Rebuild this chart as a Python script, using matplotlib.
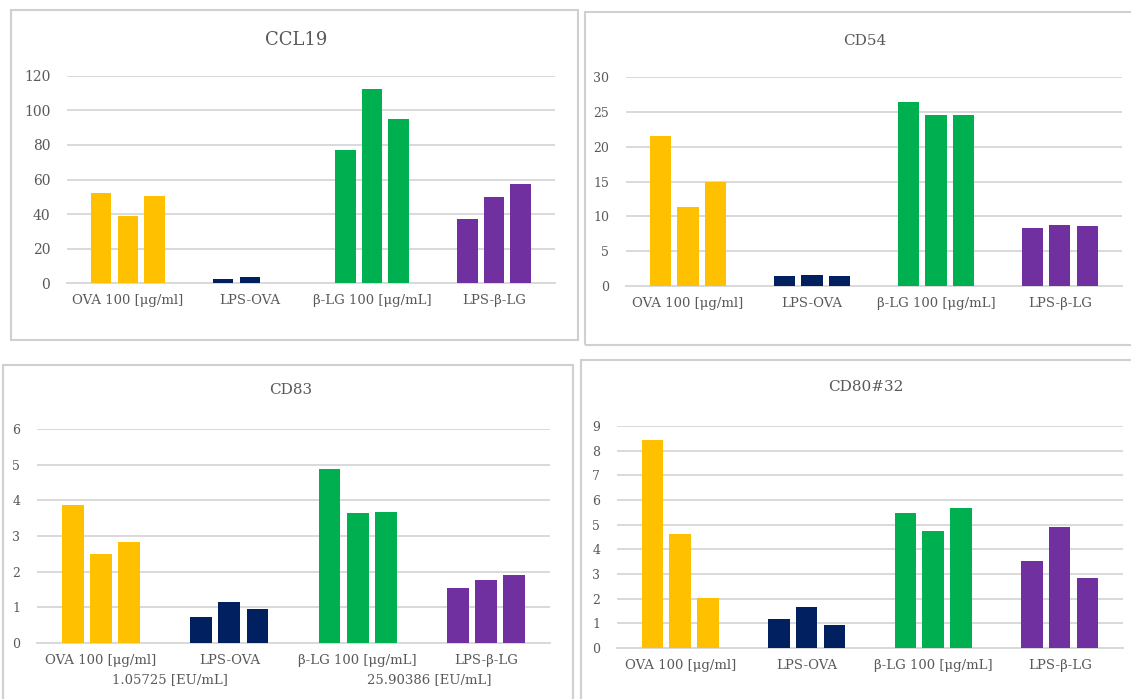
import numpy as np
import matplotlib
matplotlib.use('Agg')
import matplotlib.pyplot as plt
from matplotlib.patches import Rectangle
from matplotlib.transforms import blended_transform_factory

plt.rcParams['font.family'] = ['DejaVu Serif']

categories = ['OVA 100 [μg/ml]', 'LPS-OVA', 'β-LG 100 [μg/mL]', 'LPS-β-LG']
colors = ['#FFC000', '#002060', '#00B050', '#7030A0']

# three replicate wells per condition
ccl19 = [[52.3, 38.8, 50.4], [2.3, 3.7, 0.0], [77.2, 112.3, 94.8], [37.0, 49.8, 57.2]]
cd54 = [[21.5, 11.3, 15.0], [1.5, 1.6, 1.5], [26.4, 24.6, 24.6], [8.4, 8.7, 8.6]]
cd83 = [[3.88, 2.49, 2.82], [0.72, 1.14, 0.96], [4.88, 3.64, 3.67], [1.55, 1.78, 1.91]]
cd80 = [[8.45, 4.63, 2.04], [1.16, 1.65, 0.94], [5.47, 4.76, 5.69], [3.51, 4.90, 2.85]]

ccl19_ticks = [0, 20, 40, 60, 80, 100, 120]
cd54_ticks = [0, 5, 10, 15, 20, 25, 30]
cd83_ticks = [0, 1, 2, 3, 4, 5, 6]
cd80_ticks = [0, 1, 2, 3, 4, 5, 6, 7, 8, 9]

endotoxin = ['1.05725 [EU/mL]', '25.90386 [EU/mL]']

grid_col = '#D9D9D9'
text_col = '#595959'

fig = plt.figure(figsize=(11.31, 6.99), dpi=100)
fig.patch.set_facecolor('white')

# panel frames
frames = [(0.0097, 0.5136, 0.5013, 0.4721),
          (0.5172, 0.5064, 0.50, 0.4764),
          (0.0027, -0.02, 0.504, 0.4978),
          (0.5137, -0.02, 0.50, 0.505)]
for x0, y0, w, h in frames:
    fig.patches.append(Rectangle((x0, y0), w, h, transform=fig.transFigure,
                                 fill=False, edgecolor='#D0D0D0', linewidth=1.5))


def bar_panel(rect, data, ticks, title, title_xy, title_size, tick_size):
    ax = fig.add_axes(rect)
    x = np.arange(len(categories))
    data = np.array(data)
    for j in range(3):
        ax.bar(x + (j - 1) * 0.22, data[:, j], width=0.17, color=colors, zorder=3)
    ax.set_xlim(-0.5, 3.5)
    ax.set_ylim(0, ticks[-1])
    ax.set_yticks(ticks)
    ax.set_xticks(x)
    ax.set_xticklabels(categories)
    ax.tick_params(axis='both', length=0, colors=text_col)
    ax.tick_params(axis='y', pad=12, labelsize=tick_size)
    ax.tick_params(axis='x', pad=8, labelsize=9.5)
    ax.grid(axis='y', color=grid_col, linewidth=1.4, zorder=0)
    for s in ['top', 'right', 'left']:
        ax.spines[s].set_visible(False)
    ax.spines['bottom'].set_color(grid_col)
    ax.spines['bottom'].set_linewidth(1.4)
    fig.text(title_xy[0], title_xy[1], title, ha='center', va='center',
             fontsize=title_size, color=text_col)
    return ax


bar_panel([0.0592, 0.5951, 0.4315, 0.2962], ccl19, ccl19_ticks, 'CCL19',
          (296 / 1131, 1 - 40 / 699), 13, 10)
bar_panel([0.5535, 0.5908, 0.4385, 0.2990], cd54, cd54_ticks, 'CD54',
          (865 / 1131, 1 - 41 / 699), 11, 9)
ax3 = bar_panel([0.0327, 0.0801, 0.4536, 0.3062], cd83, cd83_ticks, 'CD83',
                (291 / 1131, 1 - 390 / 699), 11, 9)
bar_panel([0.5455, 0.0730, 0.4474, 0.3176], cd80, cd80_ticks, 'CD80#32',
          (866 / 1131, 1 - 387 / 699), 11, 9)

# endotoxin levels under the CD83 panel
trans = blended_transform_factory(ax3.transData, ax3.transAxes)
ax3.text(0.54, -0.17, endotoxin[0], transform=trans, ha='center', va='center',
         fontsize=9.5, color=text_col)
ax3.text(2.56, -0.17, endotoxin[1], transform=trans, ha='center', va='center',
         fontsize=9.5, color=text_col)

plt.savefig('out.png', dpi=100)
